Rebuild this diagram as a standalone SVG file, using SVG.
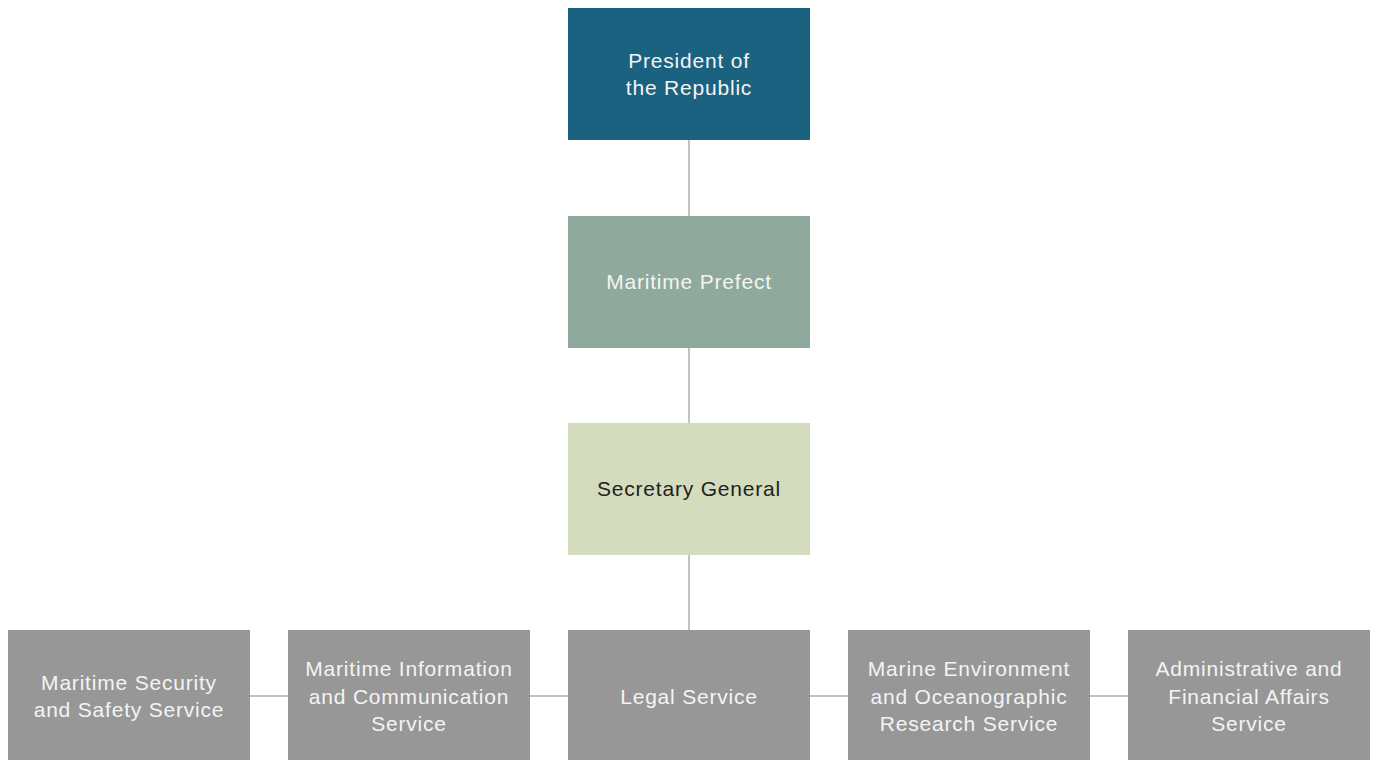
<svg xmlns="http://www.w3.org/2000/svg" width="1377" height="760" viewBox="0 0 1377 760">
<style>
text{font-family:"Liberation Sans",Arial,sans-serif;font-size:21px;letter-spacing:0.8px;text-anchor:middle;fill:#f4f4f4}
.dark{fill:#222}
.ln{stroke:#c2c2c2;stroke-width:2;fill:none}
.g{fill:#979797}
</style>
<rect width="1377" height="760" fill="#fff"/>
<g id="connectors">
<line class="ln" x1="689" y1="140" x2="689" y2="216"/>
<line class="ln" x1="689" y1="348" x2="689" y2="423"/>
<line class="ln" x1="689" y1="555" x2="689" y2="630"/>
<line class="ln" x1="250" y1="696" x2="288" y2="696"/>
<line class="ln" x1="530" y1="696" x2="568" y2="696"/>
<line class="ln" x1="810" y1="696" x2="848" y2="696"/>
<line class="ln" x1="1090" y1="696" x2="1128" y2="696"/>
</g>
<g id="president"><rect x="568" y="8" width="242" height="132" fill="#1b6280"/><text x="689" y="68">President of</text><text x="689" y="95">the Republic</text></g>
<g id="prefect"><rect x="568" y="216" width="242" height="132" fill="#8faa9c"/><text x="689" y="289">Maritime Prefect</text></g>
<g id="secretary"><rect x="568" y="423" width="242" height="132" fill="#d3dcbd"/><text class="dark" x="689" y="496">Secretary General</text></g>
<g id="security"><rect class="g" x="8" y="630" width="242" height="130"/><text x="129" y="690">Maritime Security</text><text x="129" y="717">and Safety Service</text></g>
<g id="information"><rect class="g" x="288" y="630" width="242" height="130"/><text x="409" y="676">Maritime Information</text><text x="409" y="704">and Communication</text><text x="409" y="731">Service</text></g>
<g id="legal"><rect class="g" x="568" y="630" width="242" height="130"/><text x="689" y="704">Legal Service</text></g>
<g id="environment"><rect class="g" x="848" y="630" width="242" height="130"/><text x="969" y="676">Marine Environment</text><text x="969" y="704">and Oceanographic</text><text x="969" y="731">Research Service</text></g>
<g id="admin"><rect class="g" x="1128" y="630" width="242" height="130"/><text x="1249" y="676">Administrative and</text><text x="1249" y="704">Financial Affairs</text><text x="1249" y="731">Service</text></g>
</svg>
